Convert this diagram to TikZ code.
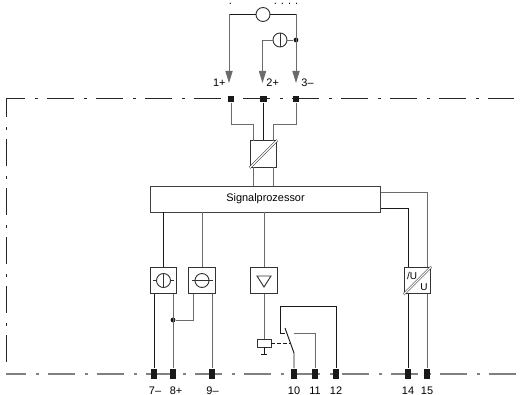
\documentclass[tikz,border=0pt]{standalone}
\usepackage{fontspec}
\setmainfont{Liberation Sans}
\usetikzlibrary{arrows.meta}

\begin{document}
\begin{tikzpicture}[x=0.75pt, y=-0.75pt, line width=0.7pt, font=\fontsize{8.2}{10}\selectfont,
                    wire/.style={draw=black!58},
                    wirek/.style={draw=black!90},
                    boundary/.style={dash pattern=on 20.25pt off 7.5pt on 2.25pt off 6.75pt},
                    termtop/.style={rectangle, fill=black!90, inner sep=0pt, minimum size=4.6pt},
                    termbot/.style={rectangle, fill=black!90, inner sep=0pt, minimum width=4.6pt, minimum height=8.2pt},
                    modbox/.style={rectangle, draw=black!80, fill=white, inner sep=0pt, minimum size=20pt},
                    meter/.style={circle, draw=black!80, fill=white, inner sep=0pt, minimum size=10.5pt},
                    arrowline/.style={wire, -{Triangle[length=9pt, width=5.4pt]}},
                    joint/.style={circle, fill=black!90, inner sep=0pt, minimum size=3.6pt},
                ]
                    \useasboundingbox (0,0) rectangle (520,395);

                    %Boundary
                    \draw[black!85, boundary, dash phase=6.4pt] (6.5,98.5) -- (514,98.5);
                    \draw[black!85, boundary, dash phase=6.4pt] (6.5,98.5) -- (6.5,364);
                    \draw[black!50, line width=1.1pt, boundary, dash phase=5.25pt] (6,374) -- (520,374);

                    %Terminals
                    \node[termtop](t1) at (231,99) {};
                    \node[termtop](t2) at (263.5,99) {};
                    \node[termtop](t3) at (296,99) {};
                    \node[termbot](t7) at (154,374) {};
                    \node[termbot](t8) at (173,374) {};
                    \node[termbot](t9) at (212,374) {};
                    \node[termbot](t10) at (294,374) {};
                    \node[termbot](t11) at (315,374) {};
                    \node[termbot](t12) at (336,374) {};
                    \node[termbot](t14) at (408,374) {};
                    \node[termbot](t15) at (427,374) {};

                    %Labels
                    \node[anchor=east, inner sep=0pt] (l1) at (226,83) {1+};
                    \node[anchor=west, inner sep=0pt] (l2) at (266,83) {2+};
                    \node[anchor=west, inner sep=0pt] (l3) at (301,83) {3--};
                    \node[inner sep=0pt] (l7) at (155,390.5) {7--};
                    \node[inner sep=0pt] (l8) at (176,390.5) {8+};
                    \node[inner sep=0pt] (l9) at (212.5,390.5) {9--};
                    \node[inner sep=0pt] (l10) at (294,390.5) {10};
                    \node[inner sep=0pt] (l11) at (315,390.5) {11};
                    \node[inner sep=0pt] (l12) at (336,390.5) {12};
                    \node[inner sep=0pt] (l14) at (408,390.5) {14};
                    \node[inner sep=0pt] (l15) at (427,390.5) {15};
                    \node[inner sep=0pt] (dotsa) at (230.5,4) {.};
                    \node[inner sep=0pt] (dotsb) at (286,4) {. . . .};

                    %Nodes
                    \node[meter](mtop) at (263,14.5) {};
                    \node[meter](mmid) at (280,40) {};
                    \node[joint](jmid) at (296,40) {};
                    \node[modbox](conv) at (263.5,154) {};
                    \node[rectangle, draw=black!75, fill=white, inner sep=0pt, minimum width=173pt, minimum height=19.5pt](sig) at (265.5,199) {Signalprozessor};
                    \node[modbox](mout1) at (163.5,280.5) {};
                    \node[modbox](mout2) at (202,280.5) {};
                    \node[modbox](amp) at (264,280.5) {};
                    \node[modbox](ubox) at (417.5,280.5) {};
                    \node[meter](c1) at (163.5,280.5) {};
                    \node[meter](c2) at (202,280.5) {};
                    \node[joint](jout) at (173,320) {};
                    \node[rectangle, draw=black!80, fill=white, inner sep=0pt, minimum width=10.5pt, minimum height=6pt](relay) at (264,343) {};
                    \coordinate (gnd) at (264,354);
                    \coordinate (swa) at (285,328);
                    \coordinate (swb) at (294,353);
                    \coordinate (conb) at (285,333);
                    \coordinate (cona) at (294,333);
                    \coordinate (a1) at (229,83);
                    \coordinate (a2) at (262.5,83);
                    \coordinate (a3) at (296,83);
                    \coordinate (conva) at (253,141);
                    \coordinate (convb) at (273,141);
                    \coordinate (convc) at (253,167);
                    \coordinate (convd) at (273,167);
                    \coordinate (sigu) at (381,192);
                    \coordinate (sigv) at (381,208);

                    %Lines
                    \draw[wirek](mtop.west) -| (a1 |- jmid);
                    \draw[arrowline](a1 |- mtop) -- (a1);
                    \draw[wirek](mtop.east) -| (a3 |- jmid);
                    \draw[arrowline](a3 |- mtop) -- (a3);
                    \draw[arrowline](a2 |- mmid) -- (a2);
                    \draw[wire](mmid.west) -- (a2 |- mmid);
                    \draw[wire](mmid.east) -- (jmid);
                    \draw[black!80](mmid.north) -- (mmid.south);

                    \draw[wire](t1) |- (253,124) -- (conva);
                    \draw[wirek](t2) -- (t2 |- conv.north);
                    \draw[wire](t3) |- (273,124) -- (convb);
                    \draw[wire](convc) -- (convc |- sig.north);
                    \draw[wire](convd) -- (convd |- sig.north);
                    \draw[black!80, double, double distance=0.9pt, line width=0.45pt](conv.south west) -- (conv.north east);

                    \draw[wirek](mout1 |- sig.south) -- (mout1.north);
                    \draw[wire](mout2 |- sig.south) -- (mout2.north);
                    \draw[wire](amp |- sig.south) -- (amp.north);
                    \draw[wire](sigu) -| (ubox.north -| t15);
                    \draw[wirek](sigv) -| (ubox.north -| t14);

                    \draw[wirek](t7) -- (t7 |- mout1.south);
                    \draw[wire](t8) -- (t8 |- mout1.south);
                    \draw[wire](jout) -| (193,294);
                    \draw[wire](t9) -- (t9 |- mout2.south);
                    \draw[wirek](t14) -- (t14 |- ubox.south);
                    \draw[wire](t15) -- (t15 |- ubox.south);

                    %Symbols
                    \draw[black!80](c1.north) -- (c1.south);
                    \draw[black!80](153,280.5) -- (c1.west);
                    \draw[black!80](c1.east) -- (173.5,280.5);
                    \draw[black!80](192,280.5) -- (212.5,280.5);
                    \draw[black!80](257,276) -- (271,276) -- (264,287) -- cycle;
                    \draw[black!80, double, double distance=0.9pt, line width=0.45pt](ubox.south west) -- (ubox.north east);
                    \node[inner sep=0pt, font=\fontsize{7.5}{9}\selectfont] (ua) at (412,276) {/U};
                    \node[inner sep=0pt, font=\fontsize{7.5}{9}\selectfont] (ub) at (424,287) {U};

                    %Relay
                    \draw[wire](amp.south) -- (relay.north);
                    \draw[wirek](relay.south) -- (gnd);
                    \draw[wirek](261,354) -- (267,354);
                    \draw[wirek, dashed, dash pattern=on 3pt off 1.5pt](relay.east) -- (291,343);
                    \draw[wirek](swa) -- (swb) -- (t10);
                    \draw[wirek](conb) -- (280,333) |- (336,306) -- (t12);
                    \draw[wire](cona) -| (t11);
                \end{tikzpicture}
\end{document}
